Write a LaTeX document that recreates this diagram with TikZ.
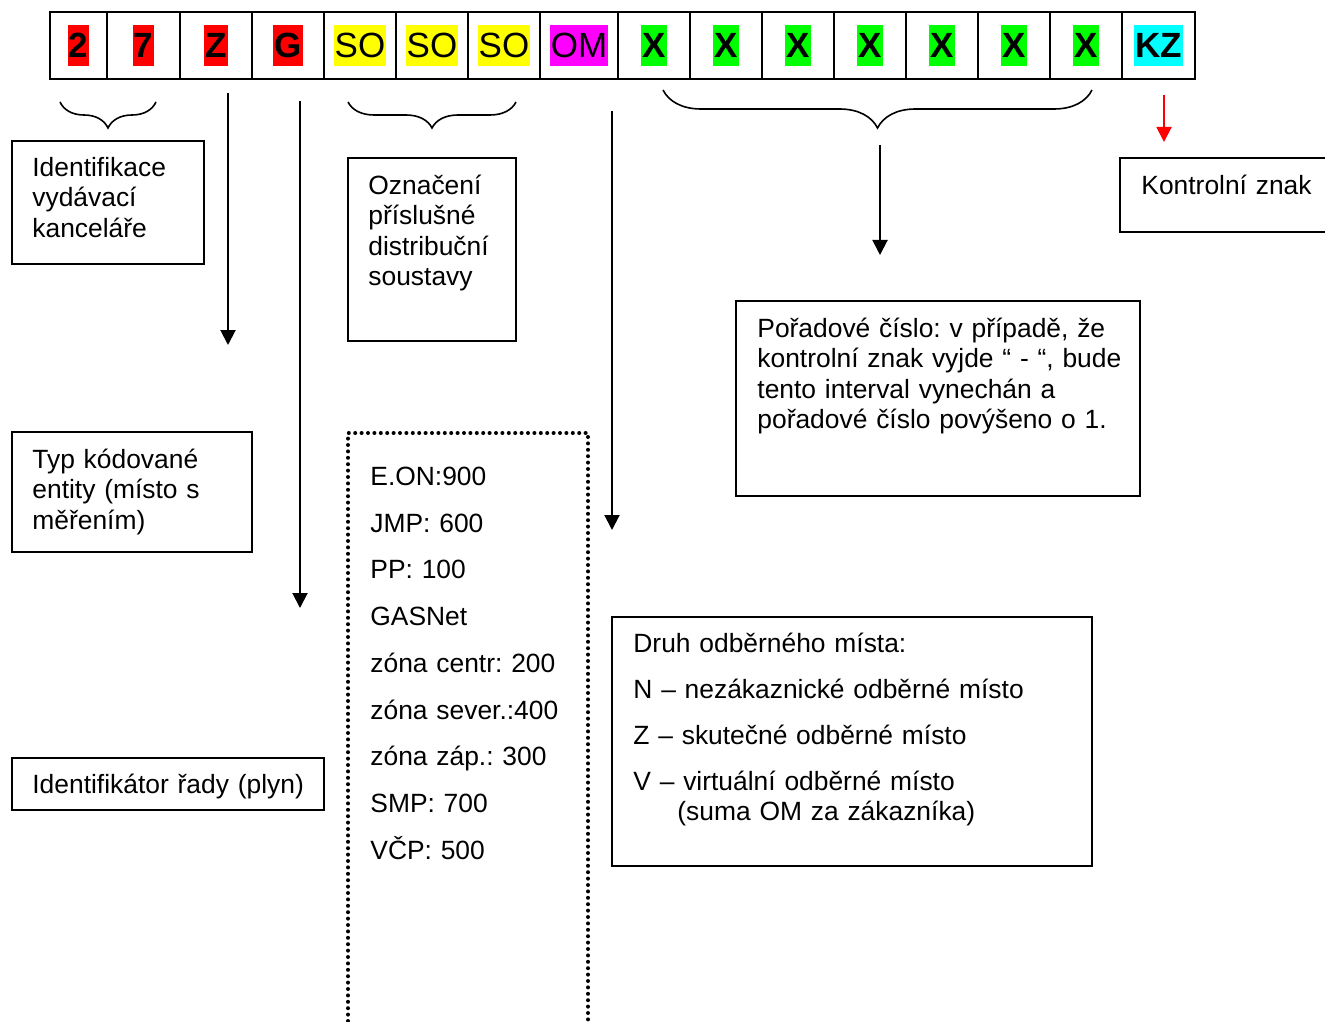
\documentclass[tikz,border=0pt]{standalone}
\usepackage{fontspec}
\setmainfont{Liberation Sans}
\usetikzlibrary{arrows.meta,decorations.pathreplacing}

\definecolor{hlred}{RGB}{255,0,0}
\definecolor{hlyellow}{RGB}{255,255,0}
\definecolor{hlmagenta}{RGB}{255,0,255}
\definecolor{hlgreen}{RGB}{0,255,0}
\definecolor{hlcyan}{RGB}{0,255,255}

\newcommand{\boxfont}{\frenchspacing\fontsize{13.2}{15.2}\selectfont}
\newcommand{\listfont}{\frenchspacing\fontsize{13.2}{23.35}\selectfont}
\newcommand{\codefont}{\fontsize{17.5}{20}\selectfont}
\newcommand{\hl}[2]{{\setlength{\fboxsep}{0.6pt}\colorbox{#1}{\rule[-3.5pt]{0pt}{18.9pt}#2}}}

\tikzset{
  cell/.style={draw, line width=1.2pt, minimum height=33.5pt, inner sep=0pt, outer sep=0pt, font=\codefont},
  frame/.style={draw, line width=1pt},
  dots/.style={draw, line width=2pt, line cap=round, dash pattern=on 0pt off 3.2pt},
  txt/.style={anchor=base west, inner sep=0pt, text width=230pt, align=left, font=\boxfont},
  arr/.style={line width=1pt, -{Triangle[length=7.5pt,width=7.5pt]}},
  brc/.style={decorate, line width=0.8pt, decoration={brace, amplitude=#1}},
}

\begin{document}
\begin{tikzpicture}[x=0.5pt, y=-0.5pt]
\useasboundingbox (0,0) rectangle (1325,1021);

% code row
\foreach \n/\xa/\xb/\col/\lbl in {
    1/50/107/hlred/\textbf{2}, 2/107/180/hlred/\textbf{7}, 3/180/252/hlred/\textbf{Z},
    4/252/324/hlred/\textbf{G}, 5/324/396/hlyellow/SO, 6/396/468/hlyellow/SO,
    7/468/540/hlyellow/SO, 8/540/618/hlmagenta/OM, 9/618/690/hlgreen/\textbf{X},
    10/690/762/hlgreen/\textbf{X}, 11/762/834/hlgreen/\textbf{X}, 12/834/906/hlgreen/\textbf{X},
    13/906/978/hlgreen/\textbf{X}, 14/978/1050/hlgreen/\textbf{X}, 15/1050/1122/hlgreen/\textbf{X},
    16/1122/1195/hlcyan/\textbf{KZ}}
  \node[cell, minimum width={(\xb-\xa)*0.5pt}] (c\n) at ({(\xa+\xb)/2},45.5) {\hl{\col}{\lbl}};

% braces
\draw[brc=13pt] (156,102) -- (60,102);
\draw[brc=13pt] (516,102) -- (348,102);
\draw[brc=19pt] (1092,90) -- (663,90);

% arrows
\coordinate (zs) at (228,93);   \coordinate (ze) at (228,345);
\coordinate (gs) at (300,101);  \coordinate (ge) at (300,608);
\coordinate (oms) at (612,111); \coordinate (ome) at (612,530);
\coordinate (xs) at (880,145);  \coordinate (xe) at (880,255);
\coordinate (kzs) at (1164,95); \coordinate (kze) at (1164,142);
\draw[arr] (zs) -- (ze);
\draw[arr] (gs) -- (ge);
\draw[arr] (oms) -- (ome);
\draw[arr] (xs) -- (xe);
\draw[arr, hlred] (kzs) -- (kze);

% frames
\draw[frame] (12,141) rectangle (204,264);
\draw[frame] (348,158) rectangle (516,341);
\draw[frame] (12,432) rectangle (252,552);
\draw[frame] (12,758) rectangle (324,810);
\draw[frame] (736,301) rectangle (1140,496);
\draw[frame] (612,617) rectangle (1092,866);
\draw[frame] (1325,158) -- (1120,158) -- (1120,232) -- (1325,232);
\draw[dots] (348,1021) -- (348,433) -- (588,433) -- (588,1021);

% texts
\node[txt] (office) at (32,176.5) {Identifikace\\vydávací\\kanceláře};
\node[txt] (distrib) at (368,194.5) {Označení\\příslušné\\distribuční\\soustavy};
\node[txt] (entity) at (32,468.5) {Typ kódované\\entity (místo s\\měřením)};
\node[txt] (series) at (32,793.5) {Identifikátor řady (plyn)};
\node[txt, text width=100pt, font=\listfont] (codes) at (370,485.5) {E.ON:900\\JMP: 600\\PP: 100\\GASNet\\zóna centr: 200\\zóna sever.:400\\zóna záp.: 300\\SMP: 700\\VČP: 500};
\node[txt] (order) at (757,337.5) {Pořadové číslo: v případě, že\\kontrolní znak vyjde “ - “, bude\\tento interval vynechán a\\pořadové číslo povýšeno o 1.};
\node[txt] (sitetype) at (633,652.5) {Druh odběrného místa:\\[7.8pt]N – nezákaznické odběrné místo\\[7.8pt]Z – skutečné odběrné místo\\[7.8pt]V – virtuální odběrné místo\\\hspace*{22pt}(suma OM za zákazníka)};
\node[txt, text width=90pt] (check) at (1141,194.5) {Kontrolní znak};
\end{tikzpicture}
\end{document}
